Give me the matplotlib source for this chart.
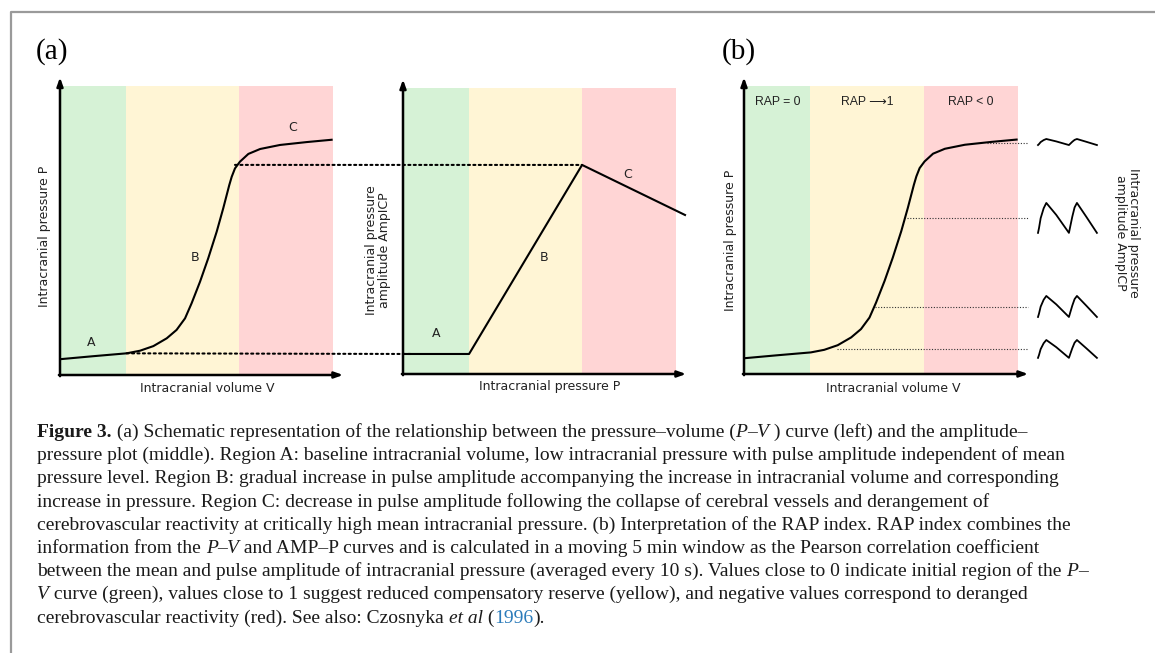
import matplotlib.pyplot as plt
from matplotlib.patches import ConnectionPatch

# region edges (fraction of the axis) and their colours: A, B, C
region_edges = [0.0, 0.242, 0.656, 1.0]
region_colors = ['#d6f2d6', '#fff5d5', '#ffd5d5']

# pressure-volume curve
pv_x = [0.004, 0.121, 0.244, 0.293, 0.342, 0.391, 0.427, 0.458, 0.482, 0.513,
        0.543, 0.574, 0.598, 0.62, 0.629, 0.641, 0.659, 0.69, 0.733, 0.806,
        0.904, 0.995]
pv_y = [0.055, 0.065, 0.075, 0.084, 0.1, 0.127, 0.156, 0.196, 0.248, 0.323,
        0.404, 0.496, 0.577, 0.657, 0.686, 0.715, 0.738, 0.765, 0.782, 0.796,
        0.806, 0.814]

# amplitude-pressure plot
amp_x = [0.0, 0.242, 0.656, 1.033]
amp_y = [0.07, 0.07, 0.731, 0.556]

# region letters
letters = ['A', 'B', 'C']
letter_pos_pv = [(0.114, 0.114), (0.495, 0.408), (0.853, 0.855)]
letter_pos_amp = [(0.121, 0.14), (0.516, 0.409), (0.824, 0.696)]

# RAP interpretation
rap_labels = ['RAP = 0', 'RAP \u27f61', 'RAP < 0']
rap_x = [0.124, 0.449, 0.828]

# one pulse of ICP (two beats), 0 = trough, 1 = peak
wave_t = [0.0, 0.017, 0.045, 0.096, 0.141, 0.31, 0.525, 0.548, 0.582, 0.621,
          0.661, 0.819, 1.0]
wave_s = [0.0, 0.16, 0.49, 0.82, 1.0, 0.6, 0.0, 0.22, 0.54, 0.85, 1.0, 0.54, 0.0]
# sample waveforms: trough level and amplitude, from top to bottom
wave_base = [0.795, 0.49, 0.198, 0.056]
wave_amp = [0.021, 0.104, 0.073, 0.062]
# dotted guide lines from the curve to the waveforms
guide_y = [0.802, 0.542, 0.233, 0.087]
guide_x0 = [0.887, 0.595, 0.478, 0.34]

W, H = 1155, 653
fig = plt.figure(figsize=(W / 100, H / 100), dpi=100)

LAB = dict(family='DejaVu Sans', fontsize=9, color='#222222')


def panel(x0, top, w, bottom):
    ax = fig.add_axes([x0 / W, (H - bottom) / H, w / W, (bottom - top) / H])
    ax.set_xlim(0, 1)
    ax.set_ylim(0, 1)
    for i, c in enumerate(region_colors):
        ax.axvspan(region_edges[i], region_edges[i + 1], color=c, lw=0, zorder=0)
    for s in ax.spines.values():
        s.set_visible(False)
    ax.set_xticks([])
    ax.set_yticks([])
    ax.patch.set_alpha(0)
    arr = dict(arrowstyle='-|>,head_length=0.5,head_width=0.18', lw=1.8,
               color='black', shrinkA=0, shrinkB=0, mutation_scale=10)
    ax.annotate('', xy=(0, 1.03), xytext=(0, -0.004), xycoords='axes fraction',
                arrowprops=arr, annotation_clip=False)
    ax.annotate('', xy=(1.037, 0), xytext=(-0.004, 0), xycoords='axes fraction',
                arrowprops=arr, annotation_clip=False)
    return ax


# (a) left: pressure-volume curve
ax1 = panel(60, 86, 273, 375)
ax1.plot(pv_x, pv_y, color='black', lw=1.5, solid_joinstyle='round')
for L, (x, y) in zip(letters, letter_pos_pv):
    ax1.text(x, y, L, ha='center', va='center', **LAB)
ax1.text(-0.055, 0.478, 'Intracranial pressure P', rotation=90,
         ha='center', va='center', **LAB)
ax1.text(0.54, -0.045, 'Intracranial volume V', ha='center', va='center', **LAB)

# (a) middle: amplitude-pressure
ax2 = panel(403, 88, 273, 374)
ax2.plot(amp_x, amp_y, color='black', lw=1.5, clip_on=False)
for L, (x, y) in zip(letters, letter_pos_amp):
    ax2.text(x, y, L, ha='center', va='center', **LAB)
ax2.text(-0.092, 0.434, 'Intracranial pressure\namplitude AmpICP', rotation=90,
         ha='center', va='center', linespacing=0.95, **LAB)
ax2.text(0.538, -0.042, 'Intracranial pressure P', ha='center', va='center', **LAB)

# dotted links between the two panels
for (xa, ya), (xb, yb) in [((0.641, 0.727), (0.656, 0.731)),
                           ((0.244, 0.075), (0.03, 0.07))]:
    con = ConnectionPatch(xyA=(xa, ya), coordsA=ax1.transData,
                          xyB=(xb, yb), coordsB=ax2.transData,
                          ls=(0, (1, 1.6)), lw=1.5, color='black')
    fig.add_artist(con)

# (b) RAP interpretation
ax3 = panel(744, 86, 274, 374)
ax3.plot(pv_x, pv_y, color='black', lw=1.5, solid_joinstyle='round')
for lab, x in zip(rap_labels, rap_x):
    ax3.text(x, 0.944, lab, ha='center', va='center', fontsize=8.8,
             family=['Liberation Sans', 'DejaVu Sans'], color='#222222')
for y, x0 in zip(guide_y, guide_x0):
    ax3.plot([x0, 1.036], [y, y], color='#333333', lw=0.8, ls=(0, (1, 1.5)),
             clip_on=False)
wx0, wx1 = 1.073, 1.288
for base, amp in zip(wave_base, wave_amp):
    ax3.plot([wx0 + t * (wx1 - wx0) for t in wave_t],
             [base + s * amp for s in wave_s],
             color='black', lw=1.3, clip_on=False, solid_joinstyle='round')
ax3.text(-0.051, 0.465, 'Intracranial pressure P', rotation=90,
         ha='center', va='center', **LAB)
ax3.text(0.545, -0.049, 'Intracranial volume V', ha='center', va='center', **LAB)
ax3.text(1.398, 0.49, 'Intracranial pressure\namplitude AmpICP', rotation=270,
         ha='center', va='center', linespacing=0.95, clip_on=False, **LAB)

# frame, panel letters and caption in pixel coordinates
ov = fig.add_axes([0, 0, 1, 1], zorder=-5)
ov.set_xlim(0, W)
ov.set_ylim(H, 0)
ov.axis('off')
ov.plot([11, 11, W], [H, 12, 12], color='#9a9a9a', lw=1.6)
ov.text(36, 52, '(a)', fontsize=21, family='Liberation Serif', va='center')
ov.text(722, 52, '(b)', fontsize=21, family='Liberation Serif', va='center')

FS = 14
styles = {
    'n': dict(family='Liberation Serif', fontsize=FS, color='#1a1a1a'),
    'b': dict(family='Liberation Serif', fontsize=FS, color='#1a1a1a', weight='bold'),
    'i': dict(family='Liberation Serif', fontsize=FS, color='#1a1a1a', style='italic'),
    'l': dict(family='Liberation Serif', fontsize=FS, color='#2b7bba'),
}
caption = [
    [('Figure 3.', 'b'), (' (a) Schematic representation of the relationship between the pressure\u2013volume (', 'n'),
     ('P', 'i'), ('\u2013', 'n'), ('V', 'i'), (' ) curve (left) and the amplitude\u2013', 'n')],
    [('pressure plot (middle). Region A: baseline intracranial volume, low intracranial pressure with pulse amplitude independent of mean', 'n')],
    [('pressure level. Region B: gradual increase in pulse amplitude accompanying the increase in intracranial volume and corresponding', 'n')],
    [('increase in pressure. Region C: decrease in pulse amplitude following the collapse of cerebral vessels and derangement of', 'n')],
    [('cerebrovascular reactivity at critically high mean intracranial pressure. (b) Interpretation of the RAP index. RAP index combines the', 'n')],
    [('information from the ', 'n'), ('P', 'i'), ('\u2013', 'n'), ('V', 'i'),
     (' and AMP\u2013P curves and is calculated in a moving 5 min window as the Pearson correlation coefficient', 'n')],
    [('between the mean and pulse amplitude of intracranial pressure (averaged every 10 s). Values close to 0 indicate initial region of the ', 'n'),
     ('P', 'i'), ('\u2013', 'n')],
    [('V', 'i'), (' curve (green), values close to 1 suggest reduced compensatory reserve (yellow), and negative values correspond to deranged', 'n')],
    [('cerebrovascular reactivity (red). See also: Czosnyka ', 'n'), ('et al', 'i'), (' (', 'n'),
     ('1996', 'l'), (').', 'n')],
]

renderer = fig.canvas.get_renderer()


def seg_width(txt, kw):
    a = ov.text(0, 0, '|' + txt + '|', **kw)
    b = ov.text(0, 0, '||', **kw)
    w = a.get_window_extent(renderer).width - b.get_window_extent(renderer).width
    a.remove()
    b.remove()
    return w


for i, line in enumerate(caption):
    x = 37
    y = 437 + i * 23.2
    for txt, st in line:
        ov.text(x, y, txt, va='baseline', ha='left', **styles[st])
        x += seg_width(txt, styles[st])

fig.savefig('out.png', dpi=100)
